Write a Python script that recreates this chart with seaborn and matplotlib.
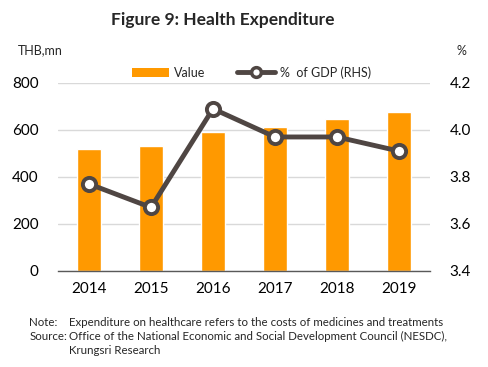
import matplotlib
matplotlib.use("Agg")
import matplotlib.pyplot as plt
import seaborn as sns
import pandas as pd
from matplotlib.lines import Line2D
from matplotlib.patches import Patch

years = ["2014", "2015", "2016", "2017", "2018", "2019"]
value = [520, 532, 591, 613, 647, 677]
pct_gdp = [3.77, 3.67, 4.09, 3.97, 3.97, 3.91]
left_ticks = [0, 200, 400, 600, 800]
right_ticks = [3.4, 3.6, 3.8, 4.0, 4.2]

sns.set_theme(style="white")
plt.rcParams['font.family'] = ['Lato', 'DejaVu Sans']

df = pd.DataFrame({"year": years, "value": value, "pct": pct_gdp})

fig = plt.figure(figsize=(4.88, 3.67), dpi=100)
ax = fig.add_axes([0.119, 0.262, 0.762, 0.512])
orange = "#FF9900"
dark = "#4F4643"

sns.barplot(data=df, x="year", y="value", ax=ax, color=orange, width=0.4,
            saturation=1, order=years, zorder=2)
ax.set_ylim(0, 800)
ax.set_yticks(left_ticks)
ax.set_yticklabels([str(t) for t in left_ticks])
ax.set_xlim(-0.5, 5.5)
ax.yaxis.grid(True, color="#D9D9D9", linewidth=1, zorder=0)
ax.set_axisbelow(True)
for s in ["top", "right", "left"]:
    ax.spines[s].set_visible(False)
ax.spines["bottom"].set_color("#595959")
ax.spines["bottom"].set_linewidth(1)
ax.set_xlabel("")
ax.set_ylabel("")
ax.tick_params(axis="both", length=0, labelsize=11, colors="black", pad=8)
ax.tick_params(axis="y", pad=14)

ax2 = ax.twinx()
sns.pointplot(data=df, x="year", y="pct", ax=ax2, order=years, color=dark,
              markers="o", linestyles="-", linewidth=3.5, markersize=9.5,
              markerfacecolor="white", markeredgecolor=dark, markeredgewidth=2.8,
              errorbar=None)
ax2.set_ylim(3.4, 4.2)
ax2.set_yticks(right_ticks)
ax2.set_yticklabels([f"{t:.1f}" for t in right_ticks])
ax2.set_xlim(-0.5, 5.5)
for s in ["top", "right", "left", "bottom"]:
    ax2.spines[s].set_visible(False)
ax2.set_ylabel("")
ax2.set_xlabel("")
ax2.tick_params(axis="y", length=0, labelsize=11, colors="black", pad=14)
ax2.grid(False)

fig.text(0.457, 0.945, "Figure 9: Health Expenditure", ha="center", va="center",
         fontsize=12.5, fontweight="bold")
fig.text(0.037, 0.862, "THB,mn", ha="left", va="center", fontsize=9)
fig.text(0.945, 0.862, "%", ha="center", va="center", fontsize=9)

handles = [Patch(facecolor=orange, edgecolor="none"),
           Line2D([0], [0], color=dark, linewidth=3.5, marker="o", markersize=7,
                  markerfacecolor="white", markeredgecolor=dark, markeredgewidth=2.5)]
fig.legend(handles, ["Value", "%  of GDP (RHS)"], loc="center", ncol=2,
           bbox_to_anchor=(0.515, 0.803), frameon=False, fontsize=9,
           handlelength=3.0, columnspacing=2.5, handletextpad=0.4)

fs = 8.3
fig.text(0.06, 0.122, "Note:", fontsize=fs, va="center")
fig.text(0.141, 0.122, "Expenditure on healthcare refers to the costs of medicines and treatments",
         fontsize=fs, va="center")
fig.text(0.06, 0.084, "Source:", fontsize=fs, va="center")
fig.text(0.141, 0.084, "Office of the National Economic and Social Development Council (NESDC),",
         fontsize=fs, va="center")
fig.text(0.141, 0.046, "Krungsri Research", fontsize=fs, va="center")

fig.savefig("out.png", dpi=100)
